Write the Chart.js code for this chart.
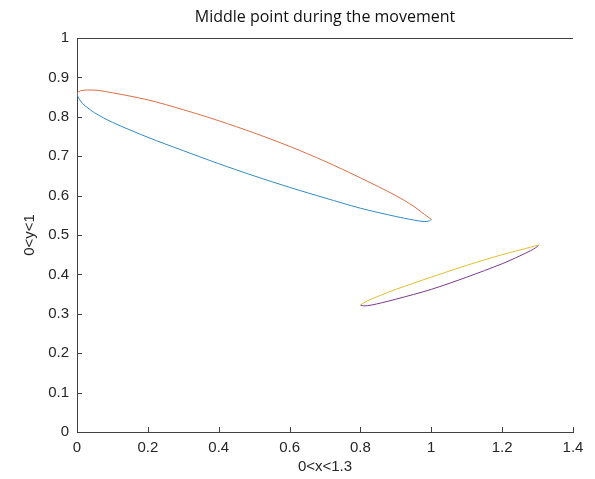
<!DOCTYPE html>
<html>
<head>
<meta charset="utf-8">
<title>Middle point during the movement</title>
<script src="https://cdn.jsdelivr.net/npm/chart.js@4.4.1/dist/chart.umd.min.js"></script>
<style>
    html, body { margin: 0; padding: 0; background: #fff; }
    #wrap { width: 595px; height: 479px; position: relative; }
</style>
</head>
<body>
<div id="wrap"><canvas id="pathChart"></canvas></div>
<script>
// first ellipse, lower arc (blue) and upper arc (orange)
const lowerArc1X = [0.000, 0.003, 0.010, 0.020, 0.050, 0.100, 0.200, 0.300, 0.400, 0.500, 0.600, 0.700, 0.800, 0.900, 0.950, 0.980, 0.995, 1.000];
const lowerArc1Y = [0.860, 0.850, 0.840, 0.830, 0.810, 0.786, 0.748, 0.714, 0.681, 0.650, 0.621, 0.594, 0.568, 0.547, 0.538, 0.534, 0.536, 0.540];
const upperArc1X = [0.000, 0.010, 0.030, 0.060, 0.100, 0.200, 0.300, 0.400, 0.500, 0.600, 0.700, 0.800, 0.900, 0.950, 0.980, 0.995, 1.000];
const upperArc1Y = [0.860, 0.866, 0.868, 0.867, 0.861, 0.843, 0.818, 0.790, 0.759, 0.725, 0.687, 0.645, 0.600, 0.573, 0.553, 0.543, 0.540];

// second ellipse, upper arc (yellow) and lower arc (purple)
const upperArc2X = [0.800, 0.810, 0.830, 0.860, 0.900, 1.000, 1.100, 1.200, 1.250, 1.280, 1.295, 1.303];
const upperArc2Y = [0.322, 0.328, 0.337, 0.348, 0.362, 0.393, 0.423, 0.450, 0.462, 0.469, 0.473, 0.474];
const lowerArc2X = [0.800, 0.810, 0.830, 0.860, 0.900, 1.000, 1.100, 1.200, 1.250, 1.280, 1.295, 1.303];
const lowerArc2Y = [0.322, 0.320, 0.322, 0.328, 0.337, 0.362, 0.393, 0.427, 0.447, 0.460, 0.468, 0.474];

const xTickLabels = ['0', '0.2', '0.4', '0.6', '0.8', '1', '1.2', '1.4'];
const yTickLabels = ['0', '0.1', '0.2', '0.3', '0.4', '0.5', '0.6', '0.7', '0.8', '0.9', '1'];

function toPoints(xs, ys) {
    return xs.map(function(x, i) { return { x: x, y: ys[i] }; });
}

function curve(xs, ys, color) {
    return {
        data: toPoints(xs, ys),
        showLine: true,
        borderColor: color,
        borderWidth: 1,
        pointRadius: 0,
        tension: 0.3,
        fill: false
    };
}

// matlab style: ticks point inward, box line along the top
const matlabAxes = {
    id: 'matlabAxes',
    afterDatasetsDraw: function(chart) {
        const ctx = chart.ctx;
        const area = chart.chartArea;
        const xs = chart.scales.x;
        const ys = chart.scales.y;
        ctx.save();
        ctx.strokeStyle = '#404040';
        ctx.lineWidth = 1;
        ctx.beginPath();
        ctx.moveTo(area.left, Math.round(area.top) + 0.5);
        ctx.lineTo(area.right, Math.round(area.top) + 0.5);
        xs.ticks.forEach(function(t) {
            const px = Math.round(xs.getPixelForValue(t.value)) + 0.5;
            ctx.moveTo(px, area.bottom);
            ctx.lineTo(px, area.bottom - 5);
        });
        ys.ticks.forEach(function(t) {
            const py = Math.round(ys.getPixelForValue(t.value)) + 0.5;
            ctx.moveTo(area.left, py);
            ctx.lineTo(area.left + 5, py);
        });
        ctx.stroke();
        ctx.restore();
    }
};

const tickFont = { family: '"Liberation Sans", Arial, sans-serif', size: 15 };

new Chart(document.getElementById('pathChart'), {
    type: 'scatter',
    data: {
        datasets: [
            curve(lowerArc1X, lowerArc1Y, '#2f8cc4'),
            curve(upperArc1X, upperArc1Y, '#dc6e45'),
            curve(upperArc2X, upperArc2Y, '#e2bd2e'),
            curve(lowerArc2X, lowerArc2Y, '#7a3a8c')
        ]
    },
    options: {
        responsive: true,
        maintainAspectRatio: false,
        animation: false,
        layout: { padding: { left: 0, right: 22, top: 0, bottom: 0 } },
        plugins: {
            legend: { display: false },
            tooltip: { enabled: false }
        },
        scales: {
            x: {
                type: 'linear',
                min: 0,
                max: 1.4,
                grid: { display: false, drawTicks: false },
                border: { display: true, color: '#404040', width: 1 },
                ticks: {
                    stepSize: 0.2,
                    padding: 7,
                    color: '#262626',
                    font: tickFont,
                    maxRotation: 0,
                    callback: function(value, index) { return xTickLabels[index]; }
                },
                title: {
                    display: true,
                    text: '0<x<1.3',
                    color: '#262626',
                    font: tickFont,
                    padding: { top: 0, bottom: 3 }
                },
                afterFit: function(scale) { scale.height = 47; }
            },
            // top axis only carries the title so it sits centred over the plot
            top: {
                type: 'linear',
                position: 'top',
                min: 0,
                max: 1.4,
                grid: { display: false, drawTicks: false },
                border: { display: false },
                ticks: { display: false },
                title: {
                    display: true,
                    text: 'Middle point during the movement',
                    color: '#111',
                    font: { family: '"Open Sans", sans-serif', size: 16, weight: 'normal' },
                    padding: { top: 8, bottom: 0 }
                },
                afterFit: function(scale) { scale.height = 38; }
            },
            y: {
                type: 'linear',
                min: 0,
                max: 1,
                grid: { display: false, drawTicks: false },
                border: { display: true, color: '#404040', width: 1 },
                ticks: {
                    stepSize: 0.1,
                    padding: 8,
                    color: '#262626',
                    font: tickFont,
                    callback: function(value, index) { return yTickLabels[index]; }
                },
                title: {
                    display: true,
                    text: '0<y<1',
                    color: '#262626',
                    font: tickFont,
                    padding: { top: 21, bottom: 0 }
                },
                afterFit: function(scale) { scale.width = 77; }
            }
        }
    },
    plugins: [matlabAxes]
});
</script>
</body>
</html>
